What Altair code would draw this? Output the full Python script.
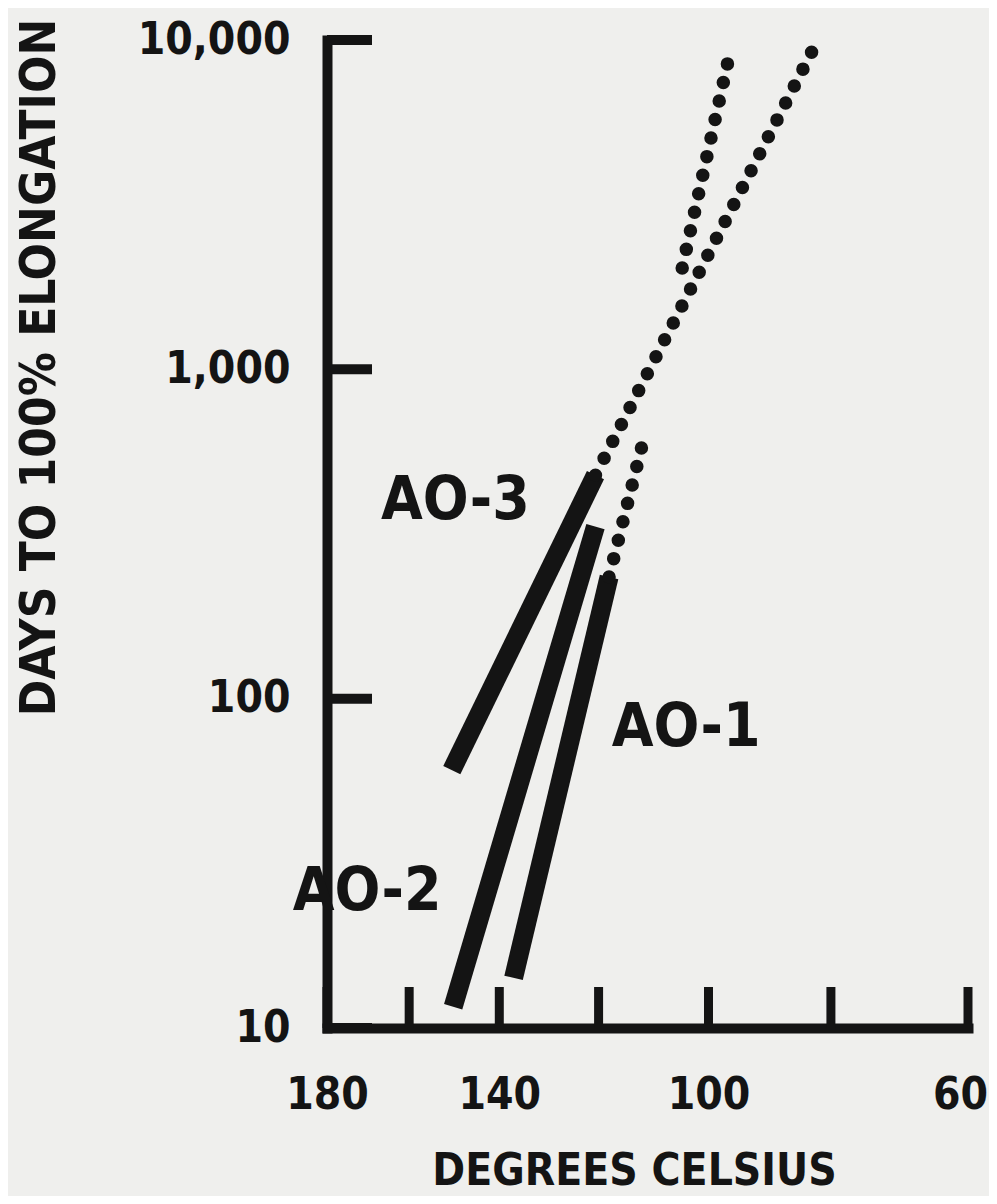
import altair as alt
import pandas as pd

# ---- data (temperature in deg C, days to 100% elongation)
AO3_T = [150.3, 120.6]
AO3_D = [60.7, 477]
AO2_T = [150.0, 120.6]
AO2_D = [11.6, 333]
AO1_T = [137.0, 118.0]
AO1_D = [14.2, 234]

# dotted extrapolations
AO3_EXT_T = [120.6, 81.8]
AO3_EXT_D = [477, 10210]
AO1_EXT1_T = [118.0, 111.3]
AO1_EXT1_D = [234, 637]
AO1_EXT2_T = [104.6, 96.2]
AO1_EXT2_D = [2032, 9397]

LABELS = ["AO-3", "AO-1", "AO-2"]
LABEL_T = [149.5, 103.9, 170.0]
LABEL_D = [398, 81.5, 25.9]

X_TICKS_C = [180, 160, 140, 120, 100, 80, 60]
Y_TICKS = [10, 100, 1000, 10000]

FONT = "DejaVu Sans Condensed, Liberation Sans Narrow, Liberation Sans, Arial"
INK = "#141414"
BG = "#efefed"

W, H = 641, 988


def inv(t):
    return 1.0 / (t + 273.15)


rows = []
for name, ts, ds, style in [
    ("AO-3", AO3_T, AO3_D, "solid"),
    ("AO-2", AO2_T, AO2_D, "solid"),
    ("AO-1", AO1_T, AO1_D, "solid"),
    ("AO-3 ext", AO3_EXT_T, AO3_EXT_D, "dotted"),
    ("AO-1 ext a", AO1_EXT1_T, AO1_EXT1_D, "dotted"),
    ("AO-1 ext b", AO1_EXT2_T, AO1_EXT2_D, "dotted"),
]:
    for t, d in zip(ts, ds):
        rows.append({"seg": name, "T": t, "days": d, "style": style})
lines = pd.DataFrame(rows)
labels = pd.DataFrame({"label": LABELS, "T": LABEL_T, "days": LABEL_D})
xt = pd.DataFrame({"T": X_TICKS_C})
yt = pd.DataFrame({"days": Y_TICKS})

x_scale = alt.Scale(domain=[inv(180), inv(60)], nice=False, zero=False)
y_scale = alt.Scale(type="log", domain=[10, 10000], nice=False)

x_axis = alt.Axis(
    values=[inv(t) for t in X_TICKS_C],
    labelExpr="(round(1/datum.value - 273.15) % 40 == 20) ? format(round(1/datum.value - 273.15), 'd') : ''",
    labelOffset={"condition": {"test": "datum.value > 0.0029", "value": -8}, "value": 0},
    title="DEGREES CELSIUS",
    titleX=307,
    titleY=143,
    titleAlign="center",
    titleBaseline="middle",
    titleFontSize=44,
    labelPadding=45,
    labelFontSize=44,
)
y_axis = alt.Axis(
    values=Y_TICKS,
    format=",",
    title="DAYS TO 100% ELONGATION",
    titleX=-288,
    titleY=327,
    titleAngle=-90,
    titleAlign="center",
    titleBaseline="middle",
    titleFontSize=49,
    labelPadding=37,
    labelFontSize=44,
)

base = alt.Chart(lines).transform_calculate(inv="1/(datum.T + 273.15)")

solid = base.transform_filter("datum.style == 'solid'").mark_line(
    color=INK, strokeWidth=19, strokeCap="butt"
).encode(
    x=alt.X("inv:Q", scale=x_scale, axis=x_axis),
    y=alt.Y("days:Q", scale=y_scale, axis=y_axis),
    detail="seg:N",
)

dotted = base.transform_filter("datum.style == 'dotted'").mark_line(
    color=INK, strokeWidth=13.5, strokeCap="round", strokeDash=[0, 19]
).encode(
    x=alt.X("inv:Q", scale=x_scale),
    y=alt.Y("days:Q", scale=y_scale),
    detail="seg:N",
)

text = alt.Chart(labels).transform_calculate(inv="1/(datum.T + 273.15)").mark_text(
    font=FONT, fontSize=60, fontWeight="bold", color=INK, align="center", baseline="middle"
).encode(
    x=alt.X("inv:Q", scale=x_scale),
    y=alt.Y("days:Q", scale=y_scale),
    text="label:N",
)

xticks = alt.Chart(xt).transform_calculate(inv="1/(datum.T + 273.15)").mark_rule(
    color=INK, strokeWidth=9
).encode(
    x=alt.X("inv:Q", scale=x_scale),
    y=alt.value(H),
    y2=alt.value(H - 41),
)

yticks = alt.Chart(yt).mark_rule(color=INK, strokeWidth=10).encode(
    y=alt.Y("days:Q", scale=y_scale),
    x=alt.value(0),
    x2=alt.value(45),
)

chart = alt.layer(xticks, yticks, solid, dotted, text).properties(
    width=W,
    height=H,
    autosize=alt.AutoSizeParams(type="none"),
    padding={"left": 319, "top": 32, "right": 21, "bottom": 168},
    background=BG,
).configure_view(stroke=None).configure_axis(
    grid=False,
    ticks=False,
    tickSize=0,
    domainColor=INK,
    domainWidth=10,
    domainCap="square",
    labelColor=INK,
    titleColor=INK,
    labelFont=FONT,
    titleFont=FONT,
    labelFontWeight="bold",
    titleFontWeight="bold",
    labelFlush=False,
    labelOverlap=False,
    labelBound=False,
    labelLimit=1000,
    titleLimit=2000,
)

chart.save("out.html", embed_options={"renderer": "svg", "actions": False})
